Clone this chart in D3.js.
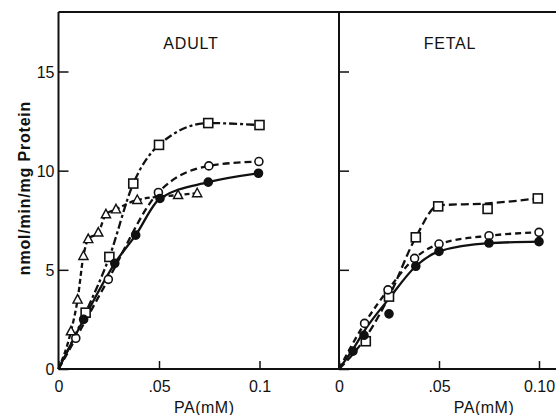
<!DOCTYPE html>
<html>
<head>
<meta charset="utf-8">
<script src="https://cdn.jsdelivr.net/npm/d3@7"></script>
<style>
  body { margin: 0; background: #fff; }
  svg { display: block; font-family: "Liberation Sans", "DejaVu Sans", sans-serif; }
  .axis text { font-size: 16px; fill: #111; }
</style>
</head>
<body>
<svg id="chart" width="558" height="415"></svg>
<script>
// values (PA in mM, rate in nmol/min/mg protein)
let yTicks = [0, 5, 10, 15];
let adultTickVals = [0, 0.05, 0.1];
let adultTickLabels = ["0", ".05", "0.1"];
let fetalTickVals = [0, 0.05, 0.1];
let fetalTickLabels = ["0", ".05", "0.10"];

let adultSquareX = [0, 0.0135, 0.0253, 0.0372, 0.05, 0.0745, 0.1];
let adultSquareY = [0, 2.84, 5.65, 9.35, 11.3, 12.4, 12.3];
let adultOpenX = [0, 0.0086, 0.0248, 0.0497, 0.0748, 0.0997];
let adultOpenY = [0, 1.55, 4.52, 8.9, 10.24, 10.46];
let adultFilledX = [0, 0.0125, 0.028, 0.0384, 0.0505, 0.0745, 0.0995];
let adultFilledY = [0, 2.5, 5.33, 6.75, 8.6, 9.42, 9.87];
let adultTriX = [0, 0.0062, 0.0095, 0.0124, 0.0148, 0.0198, 0.0236, 0.0286, 0.0392, 0.0595, 0.069];
let adultTriY = [0, 1.9, 3.5, 5.7, 6.55, 6.88, 7.8, 8.05, 8.52, 8.77, 8.86];

let fetalSquareX = [0, 0.0134, 0.025, 0.0384, 0.0496, 0.0743, 0.0994];
let fetalSquareY = [0, 1.4, 3.65, 6.64, 8.2, 8.07, 8.6];
let fetalSquareFit = [0, 1.6, 3.65, 6.64, 8.25, 8.35, 8.6];
let fetalOpenX = [0, 0.0128, 0.0245, 0.0378, 0.05, 0.075, 0.1];
let fetalOpenY = [0, 2.3, 3.99, 5.58, 6.3, 6.72, 6.89];
let fetalFilledX = [0, 0.007, 0.0125, 0.025, 0.0384, 0.05, 0.075, 0.1];
let fetalFilledY = [0, 0.9, 1.7, 2.78, 5.18, 5.93, 6.35, 6.42];
let fetalFilledFit = [0, 1.0, 1.9, 3.55, 5.18, 5.93, 6.35, 6.42];

let svg = d3.select("#chart");

let y = d3.scaleLinear().domain([0, 18]).range([369, 12]);
let xA = d3.scaleLinear().domain([0, 0.1]).range([58.5, 259.5]);
let xF = d3.scaleLinear().domain([0, 0.1]).range([339, 539]);

function pts(xs, ys) {
	return xs.map(function (d, i) { return { x: d, y: ys[i] }; });
}

let adultSeries = [
	{ pts: pts(adultSquareX, adultSquareY), line: pts(adultSquareX, adultSquareY), mark: "square", dash: "8,3,3,3" },
	{ pts: pts(adultOpenX, adultOpenY), line: pts(adultOpenX, adultOpenY), mark: "open", dash: "7,4" },
	{ pts: pts(adultTriX, adultTriY), line: pts(adultTriX, adultTriY), mark: "tri", dash: "5,3" },
	{ pts: pts(adultFilledX, adultFilledY), line: pts(adultFilledX, adultFilledY), mark: "filled", dash: null }
];
let fetalSeries = [
	{ pts: pts(fetalSquareX, fetalSquareY), line: pts(fetalSquareX, fetalSquareFit), mark: "square", dash: "8,4" },
	{ pts: pts(fetalOpenX, fetalOpenY), line: pts(fetalOpenX, fetalOpenY), mark: "open", dash: "6,4" },
	{ pts: pts(fetalFilledX, fetalFilledY), line: pts(fetalFilledX, fetalFilledFit), mark: "filled", dash: null }
];

function drawPanel(x, series, tickVals, tickLabels, right, title) {
	let g = svg.append("g");

	// frame lines
	g.append("line").attr("x1", x.range()[0]).attr("x2", right).attr("y1", y(0)).attr("y2", y(0))
		.attr("stroke", "#111").attr("stroke-width", 2);
	g.append("line").attr("x1", x.range()[0]).attr("x2", right).attr("y1", y(18)).attr("y2", y(18))
		.attr("stroke", "#111").attr("stroke-width", 2);
	g.append("line").attr("x1", x.range()[0]).attr("x2", x.range()[0]).attr("y1", y(0)).attr("y2", y(18))
		.attr("stroke", "#111").attr("stroke-width", 2);

	let yAxis = d3.axisLeft(y).tickValues(yTicks).tickSizeInner(-10).tickSizeOuter(0).tickPadding(4);
	let ya = g.append("g")
		.attr("class", "axis")
		.attr("transform", "translate(" + x.range()[0] + ",0)")
		.call(yAxis);
	ya.select(".domain").remove();
	ya.selectAll("line").attr("stroke", "#111").attr("stroke-width", 1.5);
	if (x !== xA) ya.selectAll("text").remove();
	else ya.selectAll("text").attr("dy", "0.36em");

	let xAxis = d3.axisBottom(x).tickValues(tickVals)
		.tickFormat(function (d, i) { return tickLabels[i]; })
		.tickSizeInner(-8).tickSizeOuter(0).tickPadding(12);
	let xa = g.append("g")
		.attr("class", "axis")
		.attr("transform", "translate(0," + y(0) + ")")
		.call(xAxis);
	xa.select(".domain").remove();
	xa.selectAll("line").attr("stroke", "#111").attr("stroke-width", 1.5);

	g.append("text")
		.attr("x", (x(0.05) + x(0.1)) / 2 - 5)
		.attr("y", 413)
		.attr("text-anchor", "middle")
		.style("font-size", "16px")
		.style("letter-spacing", "0.5px")
		.attr("fill", "#111")
		.text("PA(mM)");

	g.append("text")
		.attr("x", title.x)
		.attr("y", 49)
		.attr("text-anchor", "middle")
		.style("font-size", "16px")
		.style("letter-spacing", "0.8px")
		.attr("fill", "#111")
		.text(title.text);

	let line = d3.line()
		.x(function (d) { return x(d.x); })
		.y(function (d) { return y(d.y); })
		.curve(d3.curveMonotoneX);

	series.forEach(function (s) {
		g.append("path")
			.datum(s.line)
			.attr("d", line)
			.attr("fill", "none")
			.attr("stroke", "#111")
			.attr("stroke-width", 2.3)
			.attr("stroke-dasharray", s.dash);
	});

	series.forEach(function (s) {
		let marks = s.pts.filter(function (d) { return d.x > 0; });
		if (s.mark === "square") {
			g.selectAll(null).data(marks).enter().append("rect")
				.attr("x", function (d) { return x(d.x) - 4.5; })
				.attr("y", function (d) { return y(d.y) - 4.5; })
				.attr("width", 9).attr("height", 9)
				.attr("fill", "#fff").attr("stroke", "#111").attr("stroke-width", 1.6);
		} else if (s.mark === "tri") {
			g.selectAll(null).data(marks).enter().append("path")
				.attr("transform", function (d) { return "translate(" + x(d.x) + "," + y(d.y) + ")"; })
				.attr("d", "M0,-5L4.6,3.5L-4.6,3.5Z")
				.attr("fill", "#fff").attr("stroke", "#111").attr("stroke-width", 1.4);
		} else {
			g.selectAll(null).data(marks).enter().append("circle")
				.attr("cx", function (d) { return x(d.x); })
				.attr("cy", function (d) { return y(d.y); })
				.attr("r", 4)
				.attr("fill", s.mark === "filled" ? "#111" : "#fff")
				.attr("stroke", "#111").attr("stroke-width", 1.6);
		}
	});
}

drawPanel(xA, adultSeries, adultTickVals, adultTickLabels, 339, { x: 191, text: "ADULT" });
drawPanel(xF, fetalSeries, fetalTickVals, fetalTickLabels, 556, { x: 450, text: "FETAL" });

// y axis title
svg.append("text")
	.attr("transform", "translate(30,188) rotate(-90)")
	.attr("text-anchor", "middle")
	.style("font-size", "16px")
	.style("font-weight", "bold")
	.style("letter-spacing", "0.8px")
	.attr("fill", "#111")
	.text("nmol/min/mg Protein");
</script>
</body>
</html>
